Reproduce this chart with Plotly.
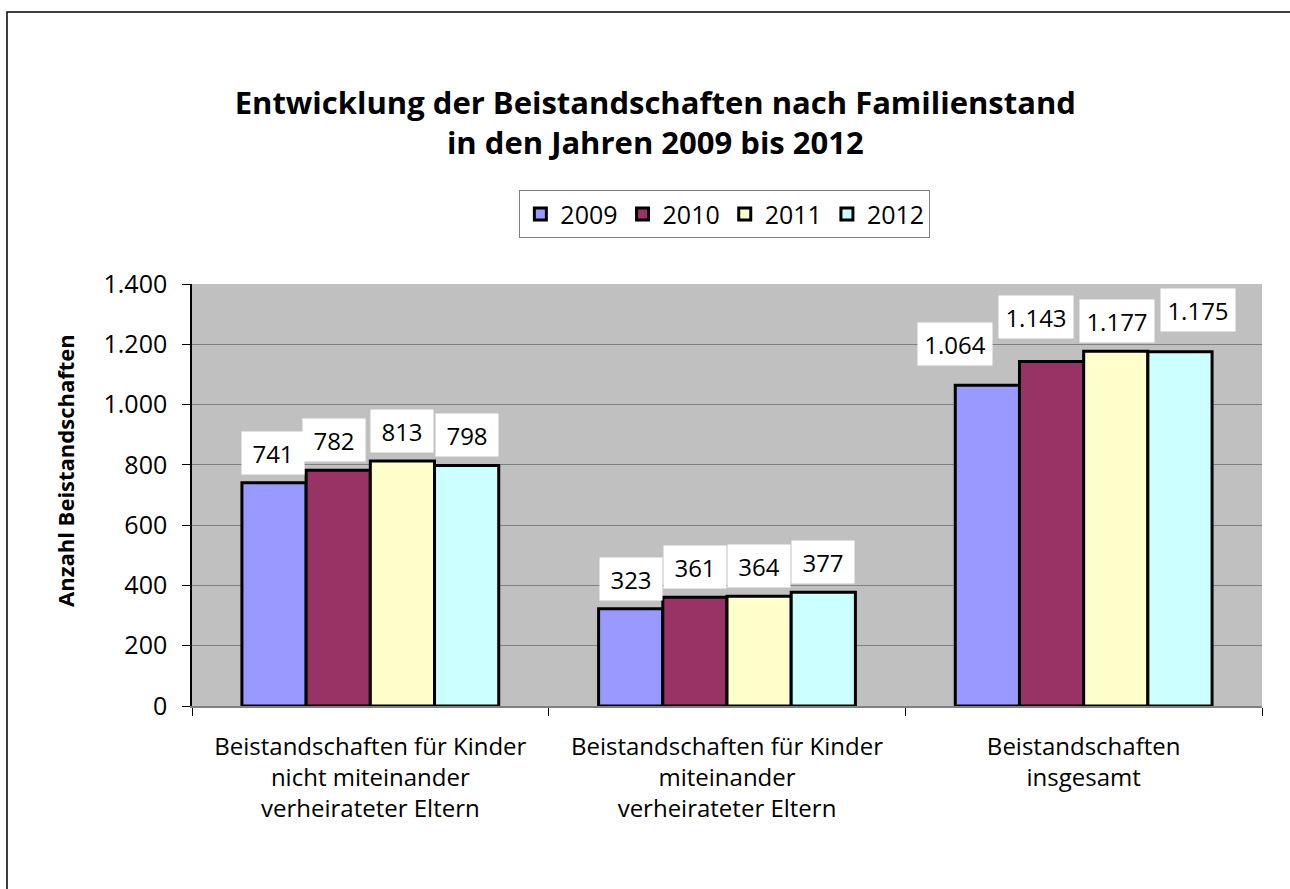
import plotly.graph_objects as go

# Beistandschaften je Familienstand, 2009 bis 2012
categories = [
    "Beistandschaften für Kinder<br>nicht miteinander<br>verheirateter Eltern",
    "Beistandschaften für Kinder<br>miteinander<br>verheirateter Eltern",
    "Beistandschaften<br>insgesamt",
]
years = ["2009", "2010", "2011", "2012"]
values = {
    "2009": [741, 323, 1064],
    "2010": [782, 361, 1143],
    "2011": [813, 364, 1177],
    "2012": [798, 377, 1175],
}
colors = {"2009": "#9999FF", "2010": "#993366", "2011": "#FFFFCC", "2012": "#CCFFFF"}

# value-box nudges (px) per year and category, so neighbouring boxes don't collide
label_dx = {
    "2009": [-1, 0, -32],
    "2010": [-4, 0, -16],
    "2011": [0, 0, 1],
    "2012": [0, 0, 18],
}
label_lift = {
    "2009": [0, 0, 11],
    "2010": [0, 0, 14],
    "2011": [0, 0, 0],
    "2012": [0, 0, 12],
}

FONT = "Open Sans, Noto Sans, sans-serif"


def fmt(v):
    return f"{v:,}".replace(",", ".")


fig = go.Figure()
for y in years:
    fig.add_trace(go.Bar(
        name=y,
        x=categories,
        y=values[y],
        marker=dict(color=colors[y], line=dict(color="black", width=3)),
        offsetgroup=y,
    ))

# white value boxes above each bar
bar_px = 64.3
annotations = []
for i, y in enumerate(years):
    base = (i - 1.5) * bar_px
    for c, v, dx, lift in zip(categories, values[y], label_dx[y], label_lift[y]):
        txt = fmt(v)
        annotations.append(dict(
            x=c, y=v, xref="x", yref="y", text=txt, showarrow=False,
            xshift=base + dx, yshift=30 + lift, yanchor="middle",
            bgcolor="white", borderpad=0,
            width=62 if len(txt) <= 3 else 74, height=42,
            font=dict(family=FONT, size=24, color="black"),
        ))

annotations.append(dict(
    text="<b>Anzahl Beistandschaften</b>", textangle=-90,
    x=0, xref="paper", xshift=-127, xanchor="center",
    y=0.557, yref="paper", yanchor="middle", showarrow=False,
    font=dict(family=FONT, size=22, color="black"),
))

fig.update_layout(
    width=1290, height=889,
    margin=dict(l=192, r=28, t=284, b=183),
    paper_bgcolor="white",
    plot_bgcolor="#C0C0C0",
    separators=",.",
    barmode="group",
    bargap=0.28,
    bargroupgap=0,
    title=dict(
        text="<b>Entwicklung der Beistandschaften nach Familienstand<br>in den Jahren 2009 bis 2012</b>",
        x=0.508, xanchor="center", y=0.872, yanchor="middle",
        font=dict(family=FONT, size=31, color="black"),
    ),
    legend=dict(
        orientation="h", x=0.498, xanchor="center", y=1.222, yanchor="top",
        bordercolor="#808080", borderwidth=1, bgcolor="white",
        font=dict(family=FONT, size=25, color="black"),
        itemwidth=30, tracegroupgap=0,
    ),
    font=dict(family=FONT, color="black"),
    annotations=annotations,
    shapes=[dict(
        type="rect", xref="paper", yref="paper",
        x0=-0.1729, x1=1.04, y0=-0.46, y1=1.6445,
        line=dict(color="black", width=1.5), fillcolor="rgba(0,0,0,0)", layer="below",
    )],
)

fig.update_yaxes(
    range=[0, 1400], dtick=200, tickformat=",d",
    showgrid=True, gridcolor="#808080", gridwidth=1,
    showline=True, linecolor="black", linewidth=1.5,
    ticks="outside", ticklen=8, tickcolor="black",
    tickfont=dict(family=FONT, size=25, color="black"),
    ticklabelstandoff=10,
    zeroline=False,
)
fig.update_xaxes(
    showline=True, linecolor="#808080", linewidth=1.5,
    ticks="outside", ticklen=8, tickcolor="black", tickson="boundaries",
    tickfont=dict(family=FONT, size=24, color="black"),
    ticklabelstandoff=18,
    showgrid=False,
)

fig.write_html("out.html")
